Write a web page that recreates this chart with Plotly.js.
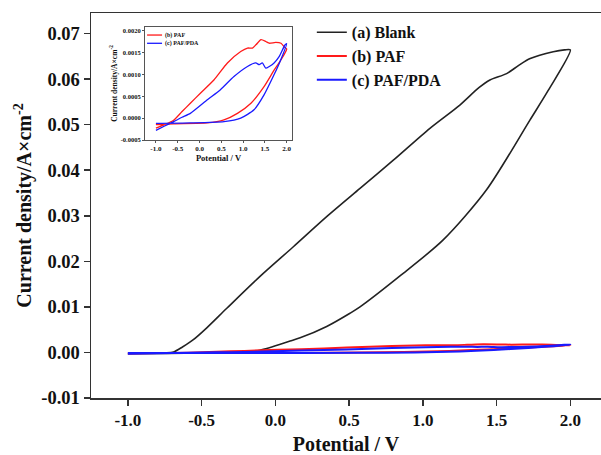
<!DOCTYPE html>
<html>
<head>
<meta charset="utf-8">
<script src="https://cdn.plot.ly/plotly-3.0.1.min.js"></script>
<style>html,body{margin:0;padding:0;background:#fff;}#chart{width:601px;height:455px;}</style>
</head>
<body>
<div id="chart"></div>
<script>
// ---- data ----
// (a) Blank: closed CV loop, potential (V) and current density (A/cm^2)
const blankV = [-1.0, -0.85, -0.75, -0.69, -0.63, -0.556, -0.465, -0.329, -0.104, 0.122, 0.348, 0.574, 0.8, 1.048, 1.251, 1.38, 1.455, 1.568, 1.65, 1.728, 1.884, 1.96, 2.0,
                1.85, 1.726, 1.432, 1.138, 0.845, 0.574, 0.506, 0.348, 0.168, 0.1, -0.104, -0.2, -0.5, -1.0];
const blankI = [-0.0003, -0.0002, -0.0001, 0.0001, 0.0012, 0.0028, 0.0054, 0.0097, 0.0167, 0.0232, 0.0298, 0.036, 0.0422, 0.0492, 0.0543, 0.0581, 0.0598, 0.0612, 0.063, 0.0645, 0.066, 0.0664, 0.0664,
                0.0575, 0.051, 0.0357, 0.0247, 0.0168, 0.01, 0.0086, 0.0057, 0.0032, 0.0025, 0.0005, 0.0002, -0.0001, -0.0003];
// (b) PAF
const pafV = [-1.0, -0.8, -0.594, -0.4, -0.21, 0.02, 0.33, 0.64, 0.945, 1.1, 1.215, 1.3, 1.41, 1.52, 1.6, 1.75, 1.87, 1.95, 2.0,
              1.85, 1.714, 1.48, 1.18, 0.87, 0.56, 0.18, -0.59, -1.0];
const pafI = [-0.00023, -0.00015, -0.00005, 0.00015, 0.00034, 0.00057, 0.00087, 0.00126, 0.00152, 0.0016, 0.0016, 0.00168, 0.00179, 0.00175, 0.00171, 0.00173, 0.00171, 0.00162, 0.00158,
              0.0013, 0.0011, 0.00072, 0.00034, 0.00011, -0.00004, -0.00011, -0.00013, -0.00015];
// (c) PAF/PDA
const pdaV = [-1.0, -0.8, -0.594, -0.4, -0.21, 0.18, 0.48, 0.79, 1.1, 1.29, 1.37, 1.44, 1.52, 1.6, 1.71, 1.83, 1.96, 2.0,
              1.85, 1.714, 1.48, 1.25, 0.945, 0.56, -0.21, -1.0];
const pdaI = [-0.00028, -0.00018, -0.00008, 0.00002, 0.00011, 0.00042, 0.00065, 0.00095, 0.00118, 0.00126, 0.00122, 0.00126, 0.00114, 0.00118, 0.00126, 0.00141, 0.00167, 0.0017,
              0.0013, 0.001, 0.00053, 0.00019, 0.0, -0.00008, -0.00011, -0.00012];

const seriesNames = ['(a) Blank', '(b) PAF', '(c) PAF/PDA'];

// tick labels
const xTicks = [-1.0, -0.5, 0.0, 0.5, 1.0, 1.5, 2.0];
const xTickText = ['-1.0', '-0.5', '0.0', '0.5', '1.0', '1.5', '2.0'];
const yTicks = [-0.01, 0.0, 0.01, 0.02, 0.03, 0.04, 0.05, 0.06, 0.07];
const yTickText = ['-0.01', '0.00', '0.01', '0.02', '0.03', '0.04', '0.05', '0.06', '0.07'];
const y2Ticks = [-0.0005, 0.0, 0.0005, 0.001, 0.0015, 0.002];
const y2TickText = ['-0.0005', '0.0000', '0.0005', '0.0010', '0.0015', '0.0020'];

// ---- styles ----
const FONT = 'Liberation Serif, Times New Roman, serif';
const BLACK = '#222222', RED = '#ff1a1a', BLUE = '#1a1aff';

const traces = [
  {x: blankV, y: blankI, name: seriesNames[0], type: 'scatter', mode: 'lines', line: {color: BLACK, width: 1.6, shape: 'spline', smoothing: 0.8}, xaxis: 'x', yaxis: 'y'},
  {x: pafV, y: pafI, name: seriesNames[1], type: 'scatter', mode: 'lines', line: {color: RED, width: 2, shape: 'spline', smoothing: 0.6}, xaxis: 'x', yaxis: 'y'},
  {x: pdaV, y: pdaI, name: seriesNames[2], type: 'scatter', mode: 'lines', line: {color: BLUE, width: 2, shape: 'spline', smoothing: 0.6}, xaxis: 'x', yaxis: 'y'},
  // inset
  {x: pafV, y: pafI, name: seriesNames[1], type: 'scatter', mode: 'lines', line: {color: RED, width: 1.3, shape: 'spline', smoothing: 0.6}, xaxis: 'x2', yaxis: 'y2', showlegend: false},
  {x: pdaV, y: pdaI, name: seriesNames[2], type: 'scatter', mode: 'lines', line: {color: BLUE, width: 1.3, shape: 'spline', smoothing: 0.6}, xaxis: 'x2', yaxis: 'y2', showlegend: false}
];

const bold = (size) => ({family: FONT, size: size, color: '#111', weight: 'bold'});

const layout = {
  width: 601, height: 455,
  margin: {l: 91, r: 0, t: 13, b: 57},
  paper_bgcolor: '#fff', plot_bgcolor: '#fff',
  showlegend: true,
  legend: {x: 0.433, y: 0.994, xanchor: 'left', yanchor: 'top', bgcolor: 'rgba(0,0,0,0)', font: bold(16), tracegroupgap: 0},
  xaxis: {
    domain: [0, 1], range: [-1.25, 2.208], showgrid: false, zeroline: false,
    showline: true, linecolor: '#333', linewidth: 1.5, mirror: true,
    ticks: 'outside', ticklen: 6, tickwidth: 1.5, tickcolor: '#333',
    tickvals: xTicks, ticktext: xTickText, tickfont: bold(17),
    title: {text: 'Potential / V', font: bold(20), standoff: 14}
  },
  yaxis: {
    domain: [0, 1], range: [-0.01, 0.0745], showgrid: false, zeroline: false,
    showline: true, linecolor: '#333', linewidth: 1.5,
    ticks: 'outside', ticklen: 6, tickwidth: 1.5, tickcolor: '#333',
    tickvals: yTicks, ticktext: yTickText, tickfont: bold(18.5),
    title: {text: 'Current density/A×cm<sup>-2</sup>', font: bold(20), standoff: 4}
  },
  xaxis2: {
    anchor: 'y2', domain: [0.1059, 0.394], range: [-1.25, 2.12], showgrid: false, zeroline: false,
    showline: true, linecolor: '#555', linewidth: 1, mirror: true,
    ticks: 'outside', ticklen: 2, tickwidth: 1, tickcolor: '#555',
    tickvals: xTicks, ticktext: xTickText, tickfont: bold(7),
    title: {text: 'Potential / V', font: bold(8.5), standoff: 2}
  },
  yaxis2: {
    anchor: 'x2', domain: [0.670, 0.9636], range: [-0.0005, 0.00208], showgrid: false, zeroline: false,
    showline: true, linecolor: '#555', linewidth: 1, mirror: true,
    ticks: 'outside', ticklen: 2, tickwidth: 1, tickcolor: '#555',
    tickvals: y2Ticks, ticktext: y2TickText, tickfont: bold(6.5),
    title: {text: 'Current density/A×cm<sup>-2</sup>', font: bold(7.5), standoff: 2}
  },
  // small legend of the inset (inside its frame, top-left)
  shapes: [
    {type: 'line', xref: 'x2 domain', yref: 'y2 domain', x0: 0.014, x1: 0.116, y0: 0.929, y1: 0.929, line: {color: RED, width: 1.3}},
    {type: 'line', xref: 'x2 domain', yref: 'y2 domain', x0: 0.014, x1: 0.116, y0: 0.856, y1: 0.856, line: {color: BLUE, width: 1.3}}
  ],
  annotations: [
    {xref: 'x2 domain', yref: 'y2 domain', x: 0.122, y: 0.929, xanchor: 'left', yanchor: 'middle', showarrow: false, text: seriesNames[1], font: bold(6)},
    {xref: 'x2 domain', yref: 'y2 domain', x: 0.122, y: 0.856, xanchor: 'left', yanchor: 'middle', showarrow: false, text: seriesNames[2], font: bold(6)}
  ]
};

Plotly.newPlot('chart', traces, layout, {displayModeBar: false, staticPlot: true});
</script>
</body>
</html>
